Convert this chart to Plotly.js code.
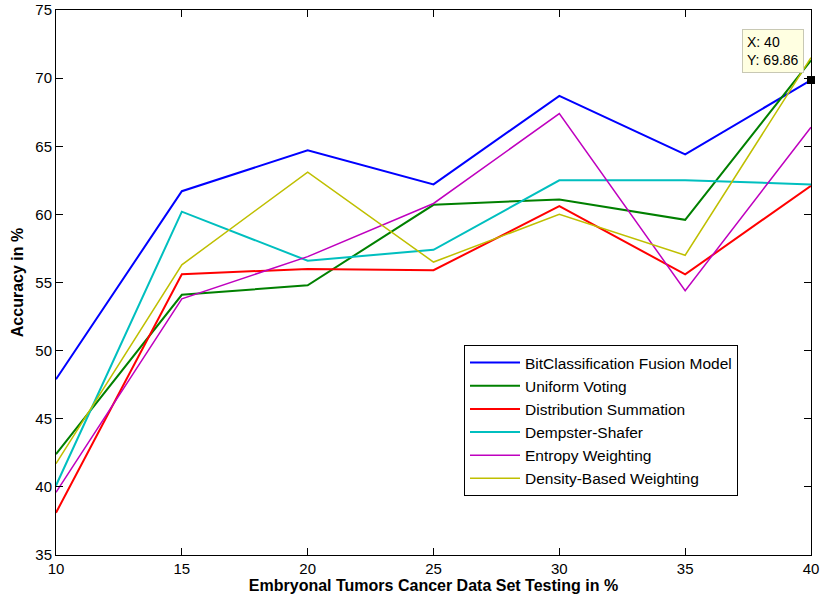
<!DOCTYPE html>
<html>
<head>
<meta charset="utf-8">
<script src="https://cdn.plot.ly/plotly-3.0.1.min.js"></script>
<style>html,body{margin:0;padding:0;background:#fff;}#chart{width:829px;height:606px;}</style>
</head>
<body>
<div id="chart"></div>
<script>
const xValues = [10, 15, 20, 25, 30, 35, 40];
const bitClassification = [47.9, 61.7, 64.7, 62.2, 68.7, 64.4, 69.86];
const uniformVoting = [42.4, 54.1, 54.8, 60.7, 61.1, 59.6, 71.3];
const distributionSummation = [38.1, 55.6, 56.0, 55.9, 60.6, 55.6, 62.1];
const dempsterShafer = [40.1, 60.2, 56.6, 57.4, 62.5, 62.5, 62.2];
const entropyWeighting = [39.6, 53.8, 56.9, 60.8, 67.4, 54.4, 66.4];
const densityBased = [41.7, 56.3, 63.1, 56.5, 60.0, 57.0, 71.5];
const seriesNames = ["BitClassification Fusion Model", "Uniform Voting", "Distribution Summation", "Dempster-Shafer", "Entropy Weighting", "Density-Based Weighting"];
const seriesColors = ["#0000ff", "#008000", "#ff0000", "#00bfbf", "#bf00bf", "#bfbf00"];
const seriesWidths = [2, 2, 2, 2, 1.5, 1.5];
const seriesData = [bitClassification, uniformVoting, distributionSummation, dempsterShafer, entropyWeighting, densityBased];
const tipIndex = 6;

const traces = seriesData.map((ys, i) => ({
  x: xValues, y: ys, type: 'scatter', mode: 'lines', name: seriesNames[i],
  line: {color: seriesColors[i], width: seriesWidths[i]}
}));
traces.push({
  x: [xValues[tipIndex]], y: [bitClassification[tipIndex]], type: 'scatter', mode: 'markers',
  marker: {symbol: 'square', size: 8, color: '#000'}, showlegend: false, cliponaxis: false
});

const font = {family: 'Liberation Sans, Arial, sans-serif', color: '#000'};
const layout = {
  width: 829, height: 606,
  margin: {l: 56, r: 18, t: 10, b: 51},
  paper_bgcolor: '#fff', plot_bgcolor: '#fff',
  font: Object.assign({size: 15}, font),
  showlegend: true,
  hovermode: false,
  xaxis: {
    range: [10, 40], dtick: 5, tick0: 10, showgrid: false, zeroline: false,
    showline: true, linecolor: '#000', linewidth: 1, mirror: 'ticks',
    ticks: 'inside', ticklen: 7, tickcolor: '#000',
    tickfont: Object.assign({size: 15}, font),
    title: {text: '<b>Embryonal Tumors Cancer Data Set Testing in %</b>', font: Object.assign({size: 16}, font), standoff: 3}
  },
  yaxis: {
    range: [35, 75], dtick: 5, tick0: 35, showgrid: false, zeroline: false,
    showline: true, linecolor: '#000', linewidth: 1, mirror: 'ticks',
    ticks: 'inside', ticklen: 7, tickcolor: '#000',
    tickfont: Object.assign({size: 15}, font),
    title: {text: '<b>Accuracy in %</b>', font: Object.assign({size: 16}, font), standoff: 7}
  },
  legend: {
    x: 0.5404, y: 0.3853, xanchor: 'left', yanchor: 'top',
    bgcolor: '#fff', bordercolor: '#000', borderwidth: 1,
    font: Object.assign({size: 15.5}, font),
    itemwidth: 50, tracegroupgap: 0
  },
  annotations: [{
    xref: 'x', yref: 'y', x: xValues[tipIndex], y: bitClassification[tipIndex],
    text: 'X: 40<br>Y: 69.86', showarrow: false, align: 'left',
    xanchor: 'right', yanchor: 'bottom', xshift: -7, yshift: 7,
    bgcolor: '#ffffe1', bordercolor: '#c8c8b4', borderwidth: 1, borderpad: 4,
    font: Object.assign({size: 14}, font)
  }]
};
Plotly.newPlot('chart', traces, layout, {displayModeBar: false, staticPlot: true});
</script>
</body>
</html>
